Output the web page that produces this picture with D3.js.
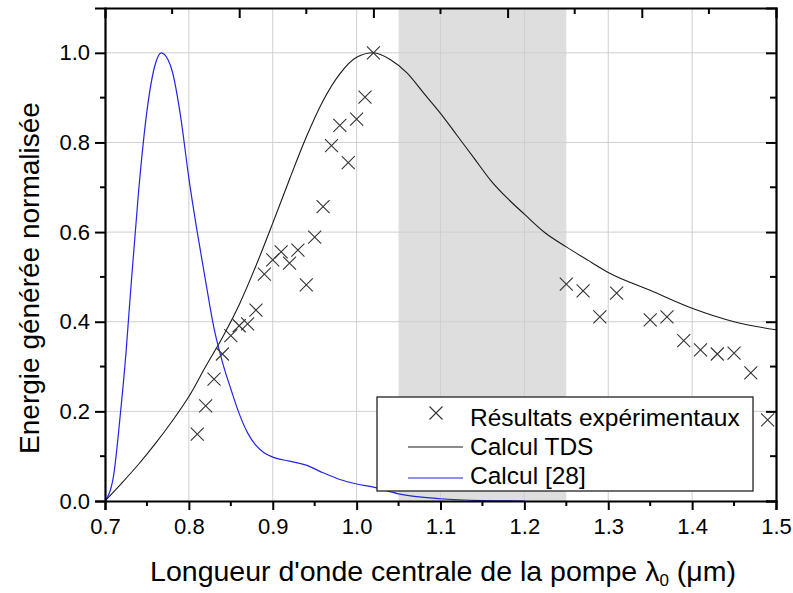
<!DOCTYPE html>
<html><head><meta charset="utf-8">
<script src="https://cdn.jsdelivr.net/npm/d3@7"></script>
<style>body{margin:0;background:#fff}svg{display:block}text{font-family:"Liberation Sans",Arial,sans-serif;fill:#000}</style>
</head><body><svg id="c" width="793" height="593"></svg>
<script>
// Experimental points
const expX = [0.81,0.82,0.83,0.84,0.85,0.86,0.87,0.88,0.89,0.90,0.91,0.92,0.93,0.94,0.95,0.96,0.97,0.98,0.99,1.00,1.01,1.02,
              1.25,1.27,1.29,1.31,1.35,1.37,1.39,1.41,1.43,1.45,1.47,1.49];
const expY = [0.149,0.212,0.272,0.328,0.369,0.391,0.395,0.426,0.506,0.538,0.556,0.531,0.560,0.482,0.589,0.657,0.793,0.838,0.755,0.852,0.901,1.0,
              0.484,0.469,0.411,0.464,0.404,0.411,0.358,0.337,0.328,0.330,0.286,0.181];
// Calcul TDS
const tdsX = [0.70,0.72,0.74,0.76,0.78,0.80,0.82,0.84,0.86,0.88,0.90,0.92,0.94,0.96,0.98,1.00,1.02,1.04,1.06,1.08,1.10,1.12,1.14,1.16,1.18,1.20,1.225,1.25,1.275,1.30,1.35,1.40,1.45,1.50];
const tdsY = [0.0,0.040,0.082,0.128,0.178,0.233,0.300,0.365,0.438,0.525,0.620,0.718,0.812,0.893,0.953,0.990,1.0,0.985,0.955,0.910,0.865,0.815,0.765,0.715,0.675,0.640,0.598,0.567,0.538,0.510,0.470,0.430,0.400,0.382];
// Calcul [28]
const refX = [0.70,0.71,0.718,0.725,0.73,0.74,0.75,0.76,0.767,0.775,0.78,0.79,0.80,0.81,0.82,0.83,0.84,0.85,0.86,0.87,0.88,0.89,0.90,0.92,0.94,0.96,0.98,1.00,1.02,1.05,1.10,1.15,1.20];
const refY = [0.0,0.054,0.188,0.33,0.455,0.69,0.87,0.975,1.0,0.985,0.96,0.86,0.72,0.60,0.49,0.385,0.31,0.25,0.195,0.152,0.124,0.107,0.098,0.089,0.080,0.063,0.048,0.038,0.031,0.016,0.005,0.001,0.0];
const shadeBand = [1.05, 1.25];
const xTicks = [0.7,0.8,0.9,1.0,1.1,1.2,1.3,1.4,1.5];
const yTicks = [0.0,0.2,0.4,0.6,0.8,1.0];
const topMajor = [0.86,1.02,1.18,1.34];
const topMinor = [0.78,0.94,1.10,1.26,1.42];
const legendLabels = ["Résultats expérimentaux","Calcul TDS","Calcul [28]"];
const xTitle = "Longueur d'onde centrale de la pompe ";
const yTitle = "Energie générée normalisée";

const L=105,R=776,T=8,B=501;
const svg=d3.select("#c");
const x=d3.scaleLinear().domain([0.7,1.5]).range([L,R]);
const y=d3.scaleLinear().domain([0,1.1]).range([B,T]);
const fmt=d3.format(".1f");

// shaded band
svg.append("rect").attr("x",x(shadeBand[0])).attr("y",T).attr("width",x(shadeBand[1])-x(shadeBand[0])).attr("height",B-T).attr("fill","#dedede");
// grid
svg.append("g").selectAll("line").data(xTicks.slice(1,-1)).join("line")
 .attr("x1",d=>x(d)).attr("x2",d=>x(d)).attr("y1",T).attr("y2",B).attr("stroke","#cfcfcf").attr("stroke-width",1);
svg.append("g").selectAll("line").data(yTicks.slice(1)).join("line")
 .attr("x1",L).attr("x2",R).attr("y1",d=>y(d)).attr("y2",d=>y(d)).attr("stroke","#cfcfcf").attr("stroke-width",1);

svg.append("clipPath").attr("id","pc").append("rect").attr("x",L).attr("y",T).attr("width",R-L).attr("height",B-T);
const line=d3.line().x(d=>x(d[0])).y(d=>y(d[1])).curve(d3.curveMonotoneX);
svg.append("path").datum(tdsX.map((v,i)=>[v,tdsY[i]])).attr("d",line).attr("fill","none").attr("stroke","#1a1a1a").attr("stroke-width",1.1).attr("clip-path","url(#pc)");
svg.append("path").datum(refX.map((v,i)=>[v,refY[i]])).attr("d",line).attr("fill","none").attr("stroke","#2424e6").attr("stroke-width",1.2).attr("clip-path","url(#pc)");

const ms=6.5;
function cross(g,cx,cy){g.append("path").attr("d",`M${cx-ms},${cy-ms}L${cx+ms},${cy+ms}M${cx-ms},${cy+ms}L${cx+ms},${cy-ms}`).attr("stroke","#333").attr("stroke-width",1.1).attr("fill","none");}
const mg=svg.append("g");
expX.forEach((v,i)=>cross(mg,x(v),y(expY[i])));

// axes
const xb=d3.axisBottom(x).tickValues(xTicks).tickFormat(fmt).tickSize(9).tickPadding(8);
const gx=svg.append("g").attr("transform",`translate(0,${B})`).call(xb);
gx.append("g").selectAll("line").data(d3.range(0.75,1.5,0.1)).join("line").attr("x1",d=>x(d)).attr("x2",d=>x(d)).attr("y1",0).attr("y2",5).attr("stroke","#000").attr("stroke-width",2);
const yl=d3.axisLeft(y).tickValues(yTicks).tickFormat(fmt).tickSize(10).tickPadding(5);
const gy=svg.append("g").attr("transform",`translate(${L},0)`).call(yl);
gy.append("g").selectAll("line").data([0.1,0.3,0.5,0.7,0.9]).join("line").attr("y1",d=>y(d)).attr("y2",d=>y(d)).attr("x1",0).attr("x2",-5).attr("stroke","#000").attr("stroke-width",2);
// right axis
const gr=svg.append("g").attr("transform",`translate(${R},0)`);
gr.call(d3.axisRight(y).tickValues(yTicks).tickSize(-10).tickFormat(""));
gr.append("g").selectAll("line").data([0.1,0.3,0.5,0.7,0.9]).join("line").attr("y1",d=>y(d)).attr("y2",d=>y(d)).attr("x1",0).attr("x2",-6).attr("stroke","#000").attr("stroke-width",2);
// top axis
const gt=svg.append("g").attr("transform",`translate(0,${T})`);
gt.call(d3.axisTop(x).tickValues(topMajor).tickSize(-10).tickFormat(""));
gt.append("g").selectAll("line").data(topMinor).join("line").attr("x1",d=>x(d)).attr("x2",d=>x(d)).attr("y1",0).attr("y2",6).attr("stroke","#000").attr("stroke-width",2);

svg.selectAll(".domain").attr("stroke","#000").attr("stroke-width",2.2);
svg.selectAll(".tick line").attr("stroke","#000").attr("stroke-width",2);
svg.selectAll(".tick text").attr("font-size",22).attr("font-family","Liberation Sans, Arial, sans-serif").attr("fill","#000");

// legend
const lg=svg.append("g");
lg.append("rect").attr("x",377).attr("y",397).attr("width",376).attr("height",94).attr("fill","#fff").attr("stroke","#222").attr("stroke-width",1.3);
cross(lg,436,413);
lg.append("line").attr("x1",408).attr("x2",463).attr("y1",447).attr("y2",447).attr("stroke","#1a1a1a").attr("stroke-width",1.1);
lg.append("line").attr("x1",408).attr("x2",463).attr("y1",478).attr("y2",478).attr("stroke","#2424e6").attr("stroke-width",1.2);
lg.selectAll("text").data(legendLabels).join("text").attr("x",470).attr("y",(d,i)=>426+i*29).attr("font-size",24.5).text(d=>d);

// titles
const xt=svg.append("text").attr("x",443).attr("y",581).attr("text-anchor","middle").attr("font-size",28.5);
xt.append("tspan").text(xTitle);
xt.append("tspan").text("λ");
xt.append("tspan").attr("font-size",17).attr("dy",5).text("0");
xt.append("tspan").attr("dy",-5).text(" (μm)");
svg.append("text").attr("transform","translate(39,278) rotate(-90)").attr("text-anchor","middle").attr("font-size",28).text(yTitle);
</script></body></html>
